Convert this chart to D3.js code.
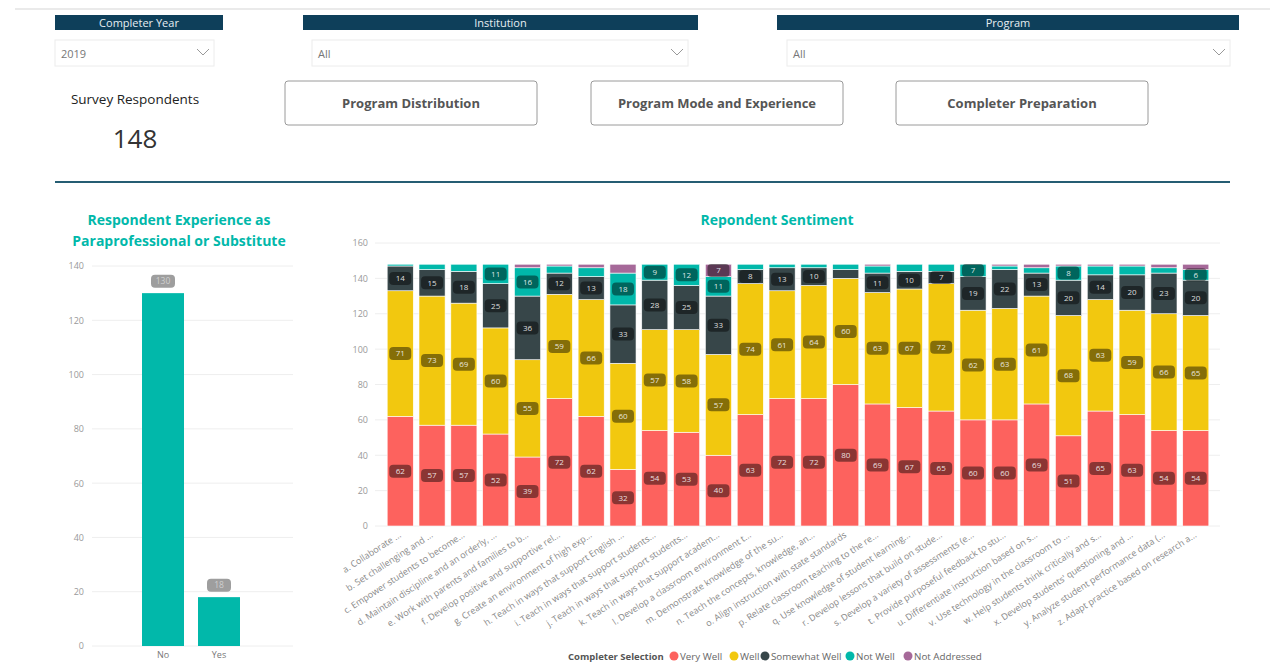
<!DOCTYPE html>
<html>
<head>
<meta charset="utf-8">
<script src="https://cdn.jsdelivr.net/npm/d3@7"></script>
<style>
  body { margin: 0; background: #fff; }
  svg { display: block; font-family: "Open Sans", sans-serif; }
</style>
</head>
<body>
<svg id="page" width="1277" height="665"></svg>
<script>
// sentiment questions (x axis, already truncated like the report)
const questions = [
  "a. Collaborate ...", "b. Set challenging and ...", "c. Empower students to become...",
  "d. Maintain discipline and an orderly, ...", "e. Work with parents and families to b...",
  "f. Develop positive and supportive rel...", "g. Create an environment of high exp...",
  "h. Teach in ways that support English ...", "i. Teach in ways that support students...",
  "j. Teach in ways that support students...", "k. Teach in ways that support academ...",
  "l. Develop a classroom environment t...", "m. Demonstrate knowledge of the su...",
  "n. Teach the concepts, knowledge, an...", "o. Align instruction with state standards",
  "p. Relate classroom teaching to the re...", "q. Use knowledge of student learning...",
  "r. Develop lessons that build on stude...", "s. Develop a variety of assessments (e...",
  "t. Provide purposeful feedback to stu...", "u. Differentiate instruction based on s...",
  "v. Use technology in the classroom to ...", "w. Help students think critically and s...",
  "x. Develop students' questioning and ...", "y. Analyze student performance data (...",
  "z. Adapt practice based on research a..."
];
const veryWell     = [62, 57, 57, 52, 39, 72, 62, 32, 54, 53, 40, 63, 72, 72, 80, 69, 67, 65, 60, 60, 69, 51, 65, 63, 54, 54];
const well         = [71, 73, 69, 60, 55, 59, 66, 60, 57, 58, 57, 74, 61, 64, 60, 63, 67, 72, 62, 63, 61, 68, 63, 59, 66, 65];
const somewhatWell = [14, 15, 18, 25, 36, 12, 13, 33, 28, 25, 33, 8, 13, 10, 5, 11, 10, 7, 19, 22, 13, 20, 14, 20, 23, 20];
const notWell      = [1, 3, 4, 11, 16, 4, 5, 18, 9, 12, 11, 3, 2, 2, 3, 4, 4, 4, 7, 2, 3, 8, 5, 5, 3, 6];
const notAddressed = [0, 0, 0, 0, 2, 1, 2, 5, 0, 0, 7, 0, 0, 0, 0, 1, 0, 0, 0, 1, 2, 1, 1, 1, 2, 3];
const seriesNames  = ["Very Well", "Well", "Somewhat Well", "Not Well", "Not Addressed"];
const seriesColors = ["#FD625E", "#F2C80F", "#374649", "#01B8AA", "#A66999"];
const sentimentTicks = [0, 20, 40, 60, 80, 100, 120, 140, 160];

// paraprofessional / substitute experience
const expCategories = ["No", "Yes"];
const expCounts = [130, 18];
const expTicks = [0, 20, 40, 60, 80, 100, 120, 140];

const surveyRespondents = 148;

const svg = d3.select("#page");

// ---------- header / slicers ----------
svg.append("line")
  .attr("x1", 15).attr("x2", 1270).attr("y1", 9).attr("y2", 9)
  .attr("stroke", "#e3e3e3").attr("stroke-width", 1.5);

const slicers = [
  { title: "Completer Year", hx: 55, hw: 168, bx: 55, bw: 159, value: "2019" },
  { title: "Institution", hx: 303, hw: 395, bx: 312, bw: 376, value: "All" },
  { title: "Program", hx: 777, hw: 462, bx: 787, bw: 443, value: "All" }
];
slicers.forEach(s => {
  svg.append("rect").attr("x", s.hx).attr("y", 15).attr("width", s.hw).attr("height", 15)
    .attr("fill", "#0e3f5a");
  svg.append("text").attr("x", s.hx + s.hw / 2).attr("y", 26.5)
    .attr("text-anchor", "middle").attr("fill", "#e6eef2").attr("font-size", 11)
    .text(s.title);
  svg.append("rect").attr("x", s.bx).attr("y", 40).attr("width", s.bw).attr("height", 26)
    .attr("fill", "#fff").attr("stroke", "#ececec");
  svg.append("text").attr("x", s.bx + 6).attr("y", 58)
    .attr("fill", "#777").attr("font-size", 11).text(s.value);
  const cx = s.bx + s.bw - 11;
  svg.append("path").attr("d", `M${cx - 6},49 L${cx},55 L${cx + 6},49`)
    .attr("fill", "none").attr("stroke", "#999").attr("stroke-width", 1);
});

svg.append("text").attr("x", 135).attr("y", 104).attr("text-anchor", "middle")
  .attr("font-size", 13.5).attr("fill", "#222").text("Survey Respondents");
svg.append("text").attr("x", 135).attr("y", 148).attr("text-anchor", "middle")
  .attr("font-size", 26).attr("fill", "#333").text(surveyRespondents);

const buttons = [
  { label: "Program Distribution", x: 285 },
  { label: "Program Mode and Experience", x: 591 },
  { label: "Completer Preparation", x: 896 }
];
buttons.forEach(b => {
  svg.append("rect").attr("x", b.x).attr("y", 81).attr("width", 252).attr("height", 44)
    .attr("rx", 3).attr("fill", "#fff").attr("stroke", "#9a9a9a");
  svg.append("text").attr("x", b.x + 126).attr("y", 108).attr("text-anchor", "middle")
    .attr("font-size", 13).attr("font-weight", "bold").attr("fill", "#555").text(b.label);
});

svg.append("line").attr("x1", 55).attr("x2", 1230).attr("y1", 182).attr("y2", 182)
  .attr("stroke", "#255d73").attr("stroke-width", 2);

// ---------- left chart: experience ----------
const titleColor = "#01B8AA";
svg.append("text").attr("x", 179).attr("y", 225).attr("text-anchor", "middle")
  .attr("font-size", 14).attr("font-weight", "bold").attr("fill", titleColor)
  .text("Respondent Experience as");
svg.append("text").attr("x", 179).attr("y", 246).attr("text-anchor", "middle")
  .attr("font-size", 14).attr("font-weight", "bold").attr("fill", titleColor)
  .text("Paraprofessional or Substitute");

const yExp = d3.scaleLinear().domain([0, 140]).range([646, 266]);
const xExp = d3.scaleBand().domain(expCategories).range([128, 254])
  .paddingInner(0.25).paddingOuter(0.25);

const expGrid = svg.append("g");
expGrid.selectAll("line").data(expTicks).join("line")
  .attr("x1", 92).attr("x2", 293)
  .attr("y1", d => yExp(d)).attr("y2", d => yExp(d))
  .attr("stroke", "#eeeeee");

const expAxis = svg.append("g").attr("transform", "translate(84,0)")
  .call(d3.axisLeft(yExp).tickValues(expTicks).tickSize(0).tickPadding(0));
expAxis.select(".domain").remove();
expAxis.selectAll("text").attr("fill", "#999").attr("font-size", 9)
  .attr("font-family", "Open Sans, sans-serif");

svg.append("g").selectAll("rect").data(expCounts).join("rect")
  .attr("x", (d, i) => xExp(expCategories[i]))
  .attr("y", d => yExp(d))
  .attr("width", xExp.bandwidth())
  .attr("height", d => yExp(0) - yExp(d))
  .attr("fill", "#01B8AA");

const expLabels = svg.append("g").selectAll("g").data(expCounts).join("g")
  .attr("transform", (d, i) =>
    `translate(${xExp(expCategories[i]) + xExp.bandwidth() / 2},${yExp(d) - 12})`);
expLabels.append("rect").attr("x", -12).attr("y", -6.5).attr("width", 24).attr("height", 13)
  .attr("rx", 4).attr("fill", "#9e9e9e");
expLabels.append("text").attr("text-anchor", "middle").attr("dy", "0.35em")
  .attr("font-size", 8.5).attr("fill", "#cfcfcf").text(d => d);

const expX = svg.append("g").attr("transform", "translate(0,652)")
  .call(d3.axisBottom(xExp).tickSize(0).tickPadding(0));
expX.select(".domain").remove();
expX.selectAll("text").attr("fill", "#777").attr("font-size", 9)
  .attr("font-family", "Open Sans, sans-serif");

// ---------- right chart: sentiment ----------
svg.append("text").attr("x", 777).attr("y", 225).attr("text-anchor", "middle")
  .attr("font-size", 14).attr("font-weight", "bold").attr("fill", titleColor)
  .text("Repondent Sentiment");

const ySent = d3.scaleLinear().domain([0, 160]).range([526, 243]);
const xSent = d3.scaleBand().domain(questions).range([384, 1212])
  .paddingInner(0.18).paddingOuter(0.1);

svg.append("g").selectAll("line").data(sentimentTicks).join("line")
  .attr("x1", 375).attr("x2", 1220)
  .attr("y1", d => ySent(d)).attr("y2", d => ySent(d))
  .attr("stroke", "#eeeeee");

const sentAxis = svg.append("g").attr("transform", "translate(368,0)")
  .call(d3.axisLeft(ySent).tickValues(sentimentTicks).tickSize(0).tickPadding(0));
sentAxis.select(".domain").remove();
sentAxis.selectAll("text").attr("fill", "#999").attr("font-size", 9)
  .attr("font-family", "Open Sans, sans-serif");

const table = questions.map((q, i) => ({
  q: q,
  "Very Well": veryWell[i],
  "Well": well[i],
  "Somewhat Well": somewhatWell[i],
  "Not Well": notWell[i],
  "Not Addressed": notAddressed[i]
}));
const stacked = d3.stack().keys(seriesNames)(table);
const color = d3.scaleOrdinal().domain(seriesNames).range(seriesColors);

const layers = svg.append("g").selectAll("g").data(stacked).join("g")
  .attr("fill", d => color(d.key));
layers.selectAll("rect").data(d => d).join("rect")
  .attr("x", d => xSent(d.data.q))
  .attr("y", d => ySent(d[1]))
  .attr("width", xSent.bandwidth())
  .attr("height", d => ySent(d[0]) - ySent(d[1]))
  .attr("stroke", "#fff").attr("stroke-width", 0.6);

// data label pills (small segments get no label)
const labelLayer = svg.append("g");
stacked.forEach(layer => {
  layer.forEach(d => {
    const v = d[1] - d[0];
    if (v < 6) return;
    const g = labelLayer.append("g")
      .attr("transform", `translate(${xSent(d.data.q) + xSent.bandwidth() / 2},${ySent((d[0] + d[1]) / 2)})`);
    g.append("rect").attr("x", -11).attr("y", -6.5).attr("width", 22).attr("height", 13)
      .attr("rx", 4).attr("fill", "rgba(0,0,0,0.45)");
    g.append("text").attr("text-anchor", "middle").attr("dy", "0.35em")
      .attr("font-size", 8).attr("fill", "#fff").attr("fill-opacity", 0.85).text(v);
  });
});

const sentX = svg.append("g").attr("transform", "translate(0,531)")
  .call(d3.axisBottom(xSent).tickSize(0).tickPadding(0));
sentX.select(".domain").remove();
sentX.selectAll("text")
  .attr("fill", "#888").attr("font-size", 9)
  .attr("font-family", "Open Sans, sans-serif")
  .attr("text-anchor", "end")
  .attr("dx", "-0.2em").attr("dy", "0.6em")
  .attr("transform", "rotate(-33)");

// legend
const legend = svg.append("g").attr("transform", "translate(568,656)");
legend.append("text").attr("y", 3.5).attr("font-size", 9.5).attr("font-weight", "bold")
  .attr("fill", "#555").text("Completer Selection");
const legendX = [106, 166, 197, 282, 340];
seriesNames.forEach((name, i) => {
  legend.append("circle").attr("cx", legendX[i]).attr("cy", 0).attr("r", 4.5)
    .attr("fill", seriesColors[i]);
  legend.append("text").attr("x", legendX[i] + 6).attr("y", 3.5)
    .attr("font-size", 9.8).attr("fill", "#666").text(name);
});
</script>
</body>
</html>
